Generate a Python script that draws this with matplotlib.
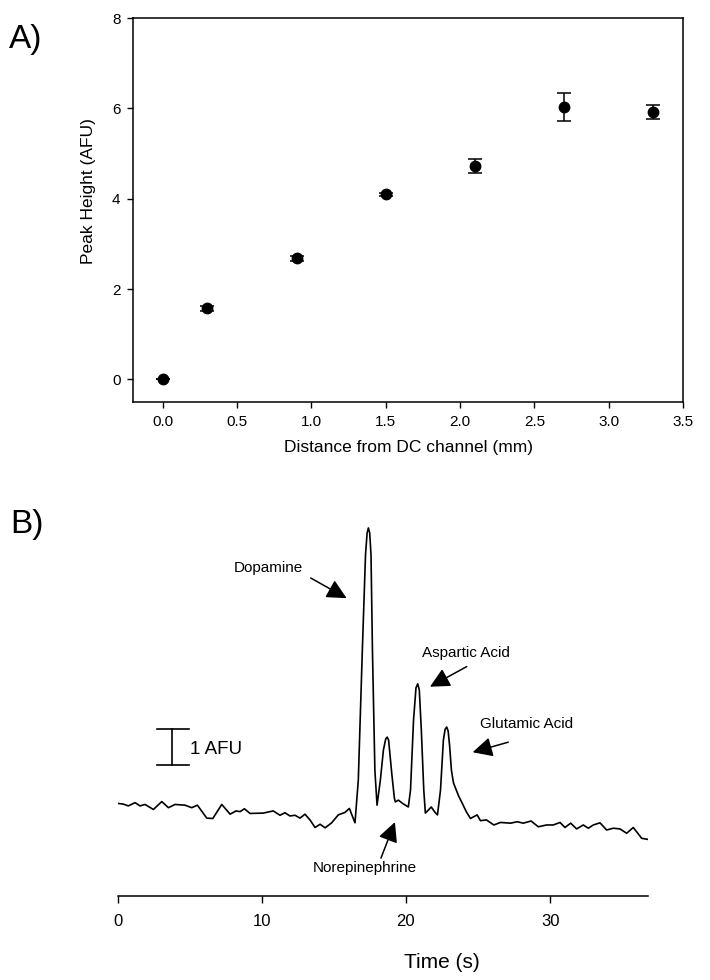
import matplotlib
matplotlib.use("Agg")
import matplotlib.pyplot as plt

plt.rcParams['font.family'] = ['Liberation Sans', 'DejaVu Sans']

# Panel A: peak height vs distance
distance = [0.0, 0.3, 0.9, 1.5, 2.1, 2.7, 3.3]
peak_height = [0.0, 1.57, 2.68, 4.10, 4.72, 6.02, 5.92]
peak_err = [0.0, 0.05, 0.05, 0.03, 0.15, 0.31, 0.15]
x_ticks_a = [0.0, 0.5, 1.0, 1.5, 2.0, 2.5, 3.0, 3.5]
y_ticks_a = [0, 2, 4, 6, 8]

# Panel B: electropherogram trace (time in s, signal in AFU)
time_s = [0.00, 0.40, 0.75, 1.22, 1.56, 1.91, 2.49, 3.07, 3.53, 3.99,
          4.68, 5.15, 5.54, 6.19, 6.61, 7.23, 7.81, 8.22, 8.50, 8.80,
          9.19, 10.11, 10.80, 11.27, 11.61, 11.96, 12.31, 12.66, 13.00, 13.35,
          13.70, 14.05, 14.40, 14.85, 15.31, 15.78, 16.08, 16.47, 16.70, 16.98,
          17.20, 17.31, 17.40, 17.49, 17.58, 17.68, 17.85, 18.00, 18.23, 18.44,
          18.60, 18.70, 18.80, 19.03, 19.20, 19.27, 19.48, 19.80, 20.17, 20.32,
          20.53, 20.70, 20.82, 20.93, 21.07, 21.24, 21.35, 21.55, 21.76, 22.00,
          22.19, 22.40, 22.60, 22.72, 22.83, 22.93, 23.03, 23.16, 23.30, 23.65,
          23.90, 24.20, 24.48, 24.94, 25.17, 25.59, 26.10, 26.56, 27.26, 27.72,
          28.14, 28.68, 29.18, 29.76, 30.22, 30.69, 31.03, 31.43, 31.84, 32.30,
          32.65, 33.00, 33.46, 33.92, 34.38, 34.85, 35.31, 35.77, 36.35, 36.77]
signal = [-0.01, -0.03, -0.08, 0.01, -0.08, -0.04, -0.18, 0.04, -0.13, -0.04,
          -0.06, -0.13, -0.06, -0.42, -0.43, -0.04, -0.31, -0.22, -0.24, -0.16,
          -0.29, -0.28, -0.22, -0.34, -0.27, -0.36, -0.34, -0.42, -0.31, -0.47,
          -0.68, -0.59, -0.69, -0.55, -0.33, -0.26, -0.15, -0.55, 0.64, 4.25,
          6.90, 7.50, 7.64, 7.50, 6.90, 4.25, 0.90, -0.06, 0.64, 1.47,
          1.78, 1.83, 1.75, 0.78, 0.14, 0.03, 0.08, -0.02, -0.11, 0.36,
          2.30, 3.20, 3.31, 3.14, 2.03, 0.36, -0.28, -0.20, -0.11, -0.25,
          -0.33, 0.36, 1.75, 2.05, 2.11, 2.00, 1.60, 0.90, 0.56, 0.20,
          0.00, -0.25, -0.43, -0.33, -0.49, -0.47, -0.61, -0.54, -0.56, -0.52,
          -0.56, -0.50, -0.66, -0.61, -0.61, -0.54, -0.68, -0.56, -0.72, -0.61,
          -0.70, -0.61, -0.55, -0.75, -0.70, -0.72, -0.84, -0.68, -0.98, -1.01]
x_ticks_b = [0, 10, 20, 30]

# peak labels: (text, text position, arrow tail, arrow tip)
peak_labels = [
    ("Dopamine", (10.44, 6.53), (13.40, 6.25), (15.89, 5.69)),
    ("Aspartic Acid", (24.17, 4.17), (24.22, 3.79), (21.67, 3.23)),
    ("Glutamic Acid", (28.38, 2.19), (27.10, 1.69), (24.63, 1.41)),
    ("Norepinephrine", (17.18, -1.81), (18.27, -1.53), (19.24, -0.53)),
]

fig = plt.figure(figsize=(7.1, 9.8), dpi=100)

# ---- Panel A ----
ax1 = fig.add_axes([133 / 710, 1 - 402 / 980, 550 / 710, 384 / 980])
ax1.errorbar(distance, peak_height, yerr=peak_err, fmt='o', color='black',
             markersize=7.5, capsize=5, elinewidth=1.1, capthick=1.1)
ax1.set_xlim(-0.2, 3.5)
ax1.set_ylim(-0.5, 8)
ax1.set_xticks(x_ticks_a)
ax1.set_xticklabels(["%.1f" % v for v in x_ticks_a])
ax1.set_yticks(y_ticks_a)
ax1.tick_params(direction='out', length=4, width=1, labelsize=11, pad=5)
for sp in ax1.spines.values():
    sp.set_linewidth(1.1)
ax1.set_xlabel("Distance from DC channel (mm)", fontsize=12.5, labelpad=8)
ax1.set_ylabel("Peak Height (AFU)", fontsize=12.5)
ax1.yaxis.set_label_coords(-0.068, 0.549)

# ---- Panel B ----
ax2 = fig.add_axes([117.5 / 710, 1 - 896 / 980, 530.5 / 710, 381 / 980])
ax2.plot(time_s, signal, color='black', linewidth=1.2, solid_joinstyle='round')
ax2.set_xlim(0, 36.79)
ax2.set_ylim(-2.583, 8.0)
ax2.set_xticks(x_ticks_b)
ax2.set_yticks([])
for side in ['top', 'right', 'left']:
    ax2.spines[side].set_visible(False)
ax2.spines['bottom'].set_linewidth(1.1)
ax2.tick_params(axis='x', direction='out', length=5, width=1, labelsize=12, pad=8)
ax2.set_xlabel("Time (s)", fontsize=15)
ax2.xaxis.set_label_coords(0.612, -0.15)

for text, txt_pos, tail, tip in peak_labels:
    ax2.text(txt_pos[0], txt_pos[1], text, fontsize=11, ha='center', va='center')
    ax2.annotate("", xy=tip, xytext=tail,
                 arrowprops=dict(arrowstyle='-|>', color='black', lw=1.1,
                                 mutation_scale=30, shrinkA=0, shrinkB=0))

# 1 AFU scale bar
ax2.plot([3.78, 3.78], [1.06, 2.06], color='black', linewidth=1.2)
ax2.plot([2.74, 4.96], [2.06, 2.06], color='black', linewidth=1.2)
ax2.plot([2.74, 4.96], [1.06, 1.06], color='black', linewidth=1.2)
ax2.text(5.03, 1.5, "1 AFU", fontsize=13.5, ha='left', va='center')

# panel letters
fig.text(9 / 710, 1 - 48 / 980, "A)", fontsize=24, ha='left', va='baseline')
fig.text(10 / 710, 1 - 533 / 980, "B)", fontsize=24, ha='left', va='baseline')

fig.savefig("out.png", dpi=100)
